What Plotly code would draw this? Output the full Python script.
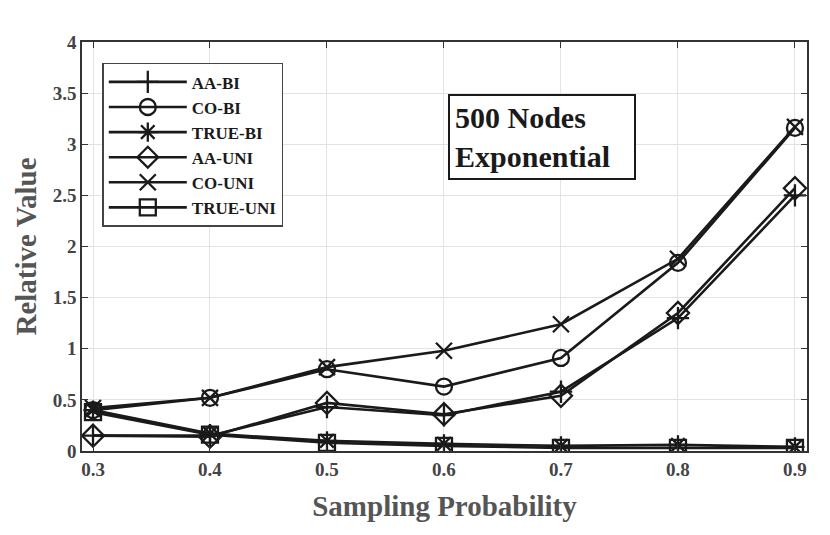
import plotly.graph_objects as go

# sampling probability on the x axis
probs = [0.3, 0.4, 0.5, 0.6, 0.7, 0.8, 0.9]

aa_bi = [0.15, 0.15, 0.43, 0.35, 0.58, 1.30, 2.50]
co_bi = [0.40, 0.52, 0.80, 0.63, 0.91, 1.84, 3.16]
true_bi = [0.40, 0.17, 0.10, 0.07, 0.05, 0.06, 0.04]
aa_uni = [0.15, 0.14, 0.47, 0.36, 0.54, 1.35, 2.57]
co_uni = [0.42, 0.52, 0.82, 0.98, 1.24, 1.88, 3.17]
true_uni = [0.38, 0.16, 0.08, 0.05, 0.03, 0.03, 0.03]

series_names = ["AA-BI", "CO-BI", "TRUE-BI", "AA-UNI", "CO-UNI", "TRUE-UNI"]
series_values = [aa_bi, co_bi, true_bi, aa_uni, co_uni, true_uni]
symbols = ["cross-thin-open", "circle-open", "asterisk-open",
           "diamond-open", "x-thin-open", "square-open"]

serif = "Liberation Serif, Times New Roman, serif"
ink = "#1a1a1a"

fig = go.Figure()

for name, vals, sym in zip(series_names, series_values, symbols):
    fig.add_trace(go.Scatter(
        x=probs,
        y=vals,
        name=name,
        mode="lines+markers",
        line=dict(color=ink, width=2.6),
        marker=dict(symbol=sym, size=17 if sym == "diamond-open" else 16,
                    color=ink, line=dict(color=ink, width=2.3))
    ))

axis_common = dict(
    showgrid=True,
    gridcolor="#e3e3e3",
    gridwidth=1,
    showline=True,
    linecolor="#333333",
    linewidth=1.5,
    mirror="ticks",
    ticks="inside",
    ticklen=6,
    tickcolor="#333333",
    tickfont=dict(family=serif, size=19, color="#444444", weight="bold"),
    zeroline=False,
    automargin=False
)

fig.update_xaxes(
    range=[0.2906, 0.9103],
    tickvals=probs,
    ticktext=["0.3", "0.4", "0.5", "0.6", "0.7", "0.8", "0.9"],
    title=dict(text="Sampling Probability", standoff=17,
               font=dict(family=serif, size=29, color="#555555", weight="bold")),
    **axis_common
)

fig.update_yaxes(
    range=[0, 4],
    dtick=0.5,
    title=dict(text="Relative Value", standoff=8,
               font=dict(family=serif, size=29, color="#555555", weight="bold")),
    **axis_common
)

fig.add_annotation(
    x=0.634, y=0.768, xref="paper", yref="paper",
    xanchor="center", yanchor="middle",
    text="500 Nodes<br>Exponential",
    align="left",
    width=174,
    showarrow=False,
    font=dict(family=serif, size=30, color=ink, weight="bold"),
    bordercolor=ink, borderwidth=2, borderpad=5,
    bgcolor="white"
)

# the page adds an 8px body margin, so the figure is 16px smaller
fig.update_layout(
    width=814,
    height=519,
    margin=dict(l=74, r=15, t=34, b=76),
    plot_bgcolor="white",
    paper_bgcolor="white",
    legend=dict(
        x=0.028, y=0.949, xanchor="left", yanchor="top",
        bgcolor="white", bordercolor="#444444", borderwidth=1.5,
        font=dict(family=serif, size=17, color=ink, weight="bold"),
        itemwidth=78,
        tracegroupgap=0
    ),
    showlegend=True
)

fig.write_html("out.html")
